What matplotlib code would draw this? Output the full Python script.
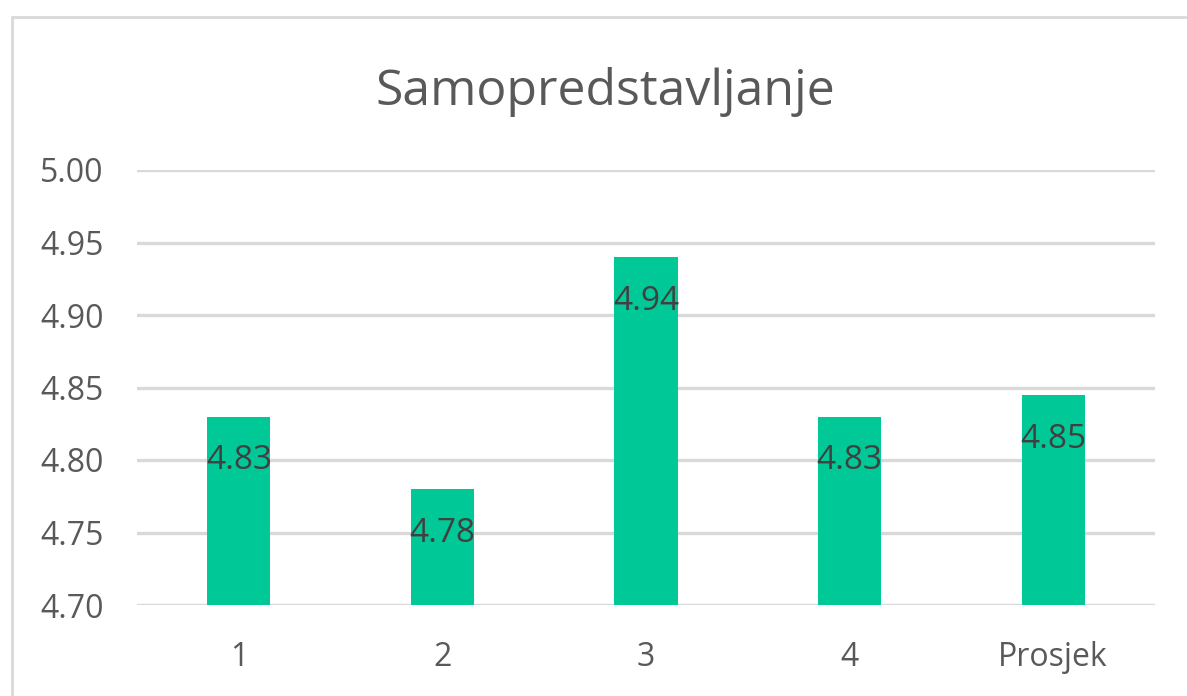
import matplotlib
matplotlib.use("Agg")
import matplotlib.pyplot as plt
from matplotlib.patches import Rectangle

categories = ["1", "2", "3", "4", "Prosjek"]
values = [4.83, 4.78, 4.94, 4.83, 4.845]
labels = ["4.83", "4.78", "4.94", "4.83", "4.85"]
yticks = [4.70, 4.75, 4.80, 4.85, 4.90, 4.95, 5.00]

plt.rcParams['font.family'] = ['Open Sans', 'DejaVu Sans']

W, H = 1187, 696
fig = plt.figure(figsize=(W / 100, H / 100), dpi=100)
ax = fig.add_axes([137 / W, 1 - 605 / H, (1155 - 137) / W, (605 - 170) / H])

x = range(len(categories))
ax.bar(x, values, width=0.31, color="#00C896", zorder=3)
for xi, v, lab in zip(x, values, labels):
    ax.annotate(lab, (xi, v), xytext=(0, -32), textcoords="offset points",
                ha="center", va="center", fontsize=24, color="#404040", zorder=4)

ax.set_xlim(-0.5, len(categories) - 0.5)
ax.set_ylim(4.70, 5.00)
ax.set_yticks(yticks)
ax.set_yticklabels([f"{t:.2f}" for t in yticks])
ax.set_xticks(list(x))
ax.set_xticklabels(categories)
ax.grid(axis="y", color="#d9d9d9", linewidth=2.4, zorder=0)
for s in ax.spines.values():
    s.set_visible(False)
ax.tick_params(axis="both", length=0, labelsize=23, labelcolor="#595959")
ax.tick_params(axis="y", pad=24)
ax.tick_params(axis="x", pad=26)

fig.text(605 / W, 1 - 92 / H, "Samopredstavljanje", ha="center", va="center",
         fontsize=36, color="#595959")

fig.patches.append(Rectangle((12 / W, -0.1), 1.2, 1 - 17 / H + 0.1, transform=fig.transFigure,
                             fill=False, edgecolor="#d9d9d9", linewidth=2))

fig.savefig("out.png", dpi=100)
